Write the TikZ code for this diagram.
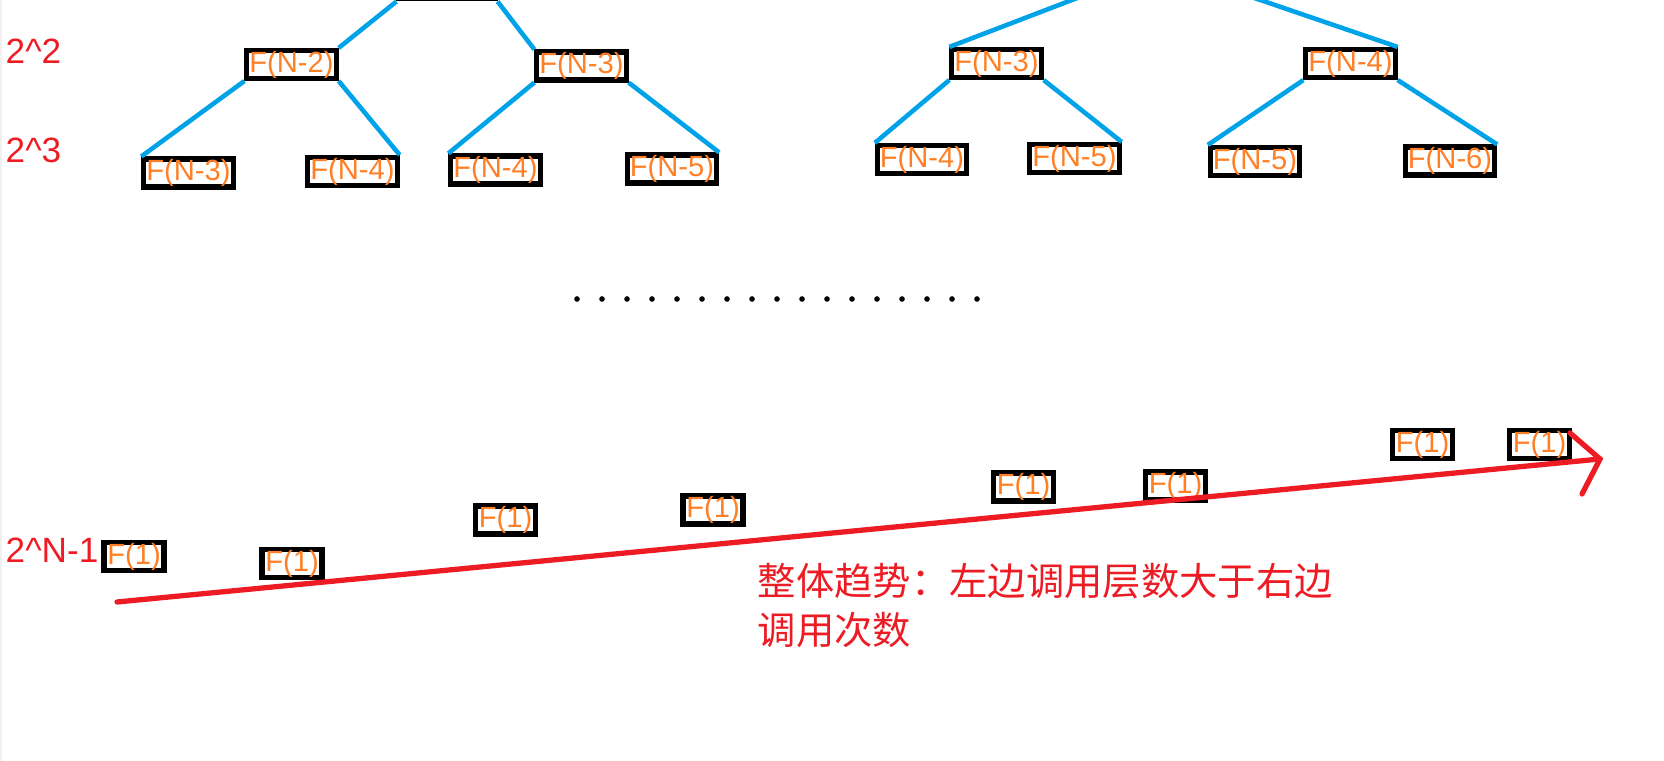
\documentclass[tikz,border=0pt]{standalone}
\usepackage{fontspec}
\setmainfont{Liberation Sans}
\newfontfamily\cjk{Noto Sans CJK SC}
\definecolor{lvred}{RGB}{237,28,36}
\definecolor{callor}{RGB}{255,127,39}
\definecolor{edgeblue}{RGB}{0,162,232}
\begin{document}
\begin{tikzpicture}[x=0.01cm, y=-0.01cm, every node/.style={font=\fontsize{8.3}{10}\selectfont},
  c/.style={draw, line width=1.45pt, text=callor, inner xsep=0.7pt, inner ysep=0pt, minimum width=0.6cm, minimum height=0.28cm},
  e/.style={edgeblue, line width=1.3pt},
  lvl/.style={lvred, anchor=west, inner sep=0pt, font=\fontsize{10}{12}\selectfont},
  trend/.style={lvred, line width=1.5pt, line cap=round}]
  \useasboundingbox (0,0) rectangle (1664,761);
  \clip (0,0) rectangle (1664,761);
  \fill[gray!12] (0,0) rectangle (2,761);
  % level labels
  \node[lvl] (lv2) at (5,51) {2\textasciicircum 2};
  \node[lvl] (lv3) at (5,150) {2\textasciicircum 3};
  \node[lvl] (lvn) at (5,550) {2\textasciicircum N-1};
  % left tree
  \node[c, minimum width=0.96cm, anchor=south] (l0) at (447,1.5) {};
  \node[c] (l1) at (291.5,64.5) {F(N-2)};
  \node[c] (l2) at (581.5,66) {F(N-3)};
  \node[c] (l3) at (188.5,173) {F(N-3)};
  \node[c] (l4) at (352.5,171.5) {F(N-4)};
  \node[c] (l5) at (495.5,170) {F(N-4)};
  \node[c] (l6) at (672,169) {F(N-5)};
  \draw[e] (l0.south west) -- (l1.north east);
  \draw[e] (l0.south east) -- (l2.north west);
  \draw[e] (l1.south west) -- (l3.north west);
  \draw[e] (l1.south east) -- (l4.north east);
  \draw[e] (l2.south west) -- (l5.north west);
  \draw[e] (l2.south east) -- (l6.north east);
  % right tree
  \node[c, minimum width=0.89cm, anchor=south] (r0) at (1163.5,-17) {};
  \node[c] (r1) at (996.5,63.5) {F(N-3)};
  \node[c] (r2) at (1350.5,63.5) {F(N-4)};
  \node[c] (r3) at (922,159.5) {F(N-4)};
  \node[c] (r4) at (1074.5,158.5) {F(N-5)};
  \node[c] (r5) at (1255,161.5) {F(N-5)};
  \node[c] (r6) at (1450,161) {F(N-6)};
  \draw[e] (r0.south west) -- (r1.north west);
  \draw[e] (r0.south east) -- (r2.north east);
  \draw[e] (r1.south west) -- (r3.north west);
  \draw[e] (r1.south east) -- (r4.north east);
  \draw[e] (r2.south west) -- (r5.north west);
  \draw[e] (r2.south east) -- (r6.north east);
  % dots
  \foreach \i in {0,...,16}
    \fill ({577+25*\i},299) circle (0.8pt);
  % leaves
  \node[c] (f1) at (134,556.5) {F(1)};
  \node[c] (f2) at (292,563.5) {F(1)};
  \node[c] (f3) at (505.5,520) {F(1)};
  \node[c] (f4) at (713,510) {F(1)};
  \node[c] (f5) at (1023.5,487) {F(1)};
  \node[c] (f6) at (1175.5,486) {F(1)};
  \node[c] (f7) at (1422.5,444.5) {F(1)};
  \node[c] (f8) at (1539.5,444.5) {F(1)};
  % trend arrow
  \coordinate (s) at (117,602);
  \coordinate (t) at (1600,459);
  \coordinate (tu) at (1570,433);
  \coordinate (td) at (1582,494);
  \draw[trend] (s) -- (t);
  \draw[trend] (tu) -- (t) -- (td);
  \node[lvred, anchor=base west, inner sep=0pt, font=\cjk\fontsize{10.9}{13}\selectfont] (txt1) at (757,595) {整体趋势：左边调用层数大于右边};
  \node[lvred, anchor=base west, inner sep=0pt, font=\cjk\fontsize{10.9}{13}\selectfont] (txt2) at (757,644) {调用次数};
\end{tikzpicture}
\end{document}
